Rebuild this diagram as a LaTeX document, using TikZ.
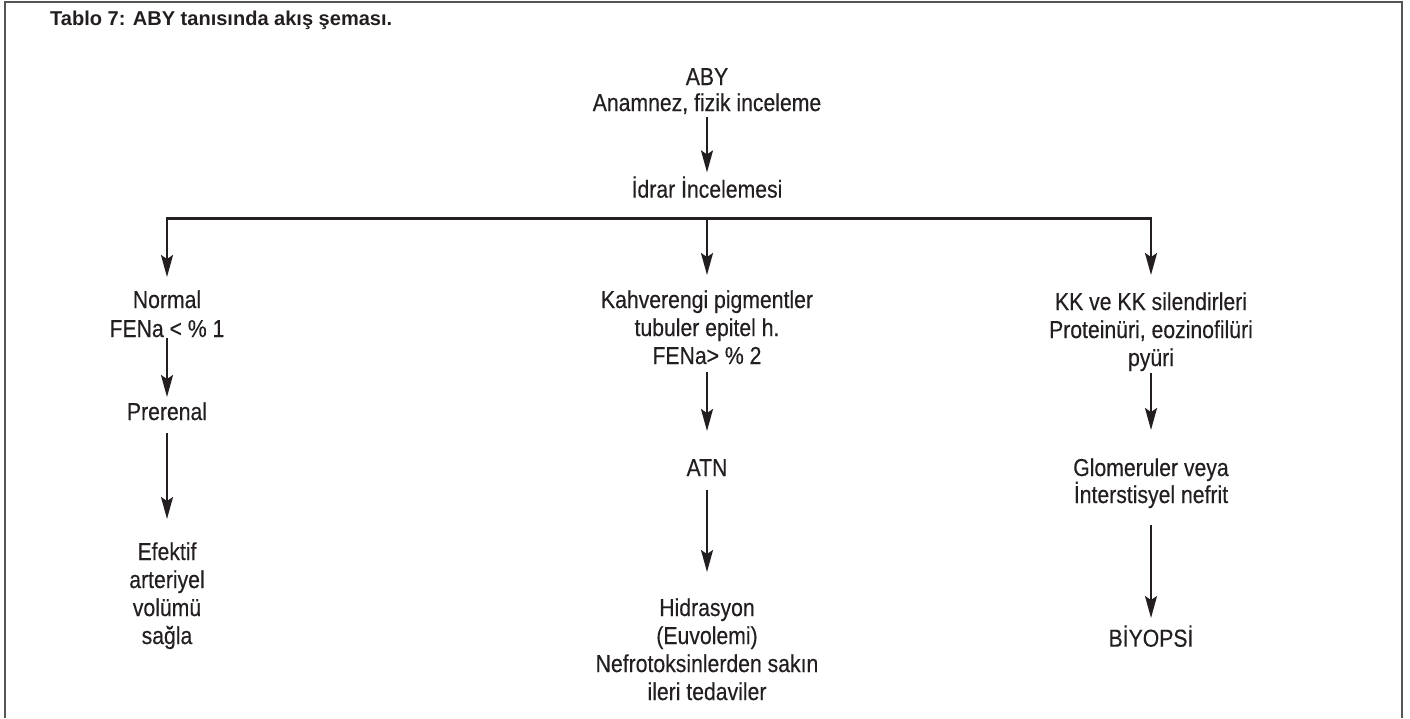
\documentclass[tikz,border=0pt]{standalone}
\usepackage{graphicx}
\usepackage{fontspec}
\setmainfont{Liberation Sans}[FakeStretch=0.865,FakeBold=0.3]
\newfontfamily\titlefont{Liberation Sans}
\usetikzlibrary{arrows.meta}
\definecolor{ink}{HTML}{231F20}
\definecolor{framec}{HTML}{555555}
\newcommand\tstr{\rule{0pt}{19.6pt}}
\newcommand\bstr{\rule[-8.4pt]{0pt}{8.4pt}}
\tikzset{
  lbl/.style={font=\fontsize{24.5}{28}\selectfont, align=center, inner sep=0pt, outer sep=0pt, anchor=north, text=ink},
  ttl/.style={anchor=west, inner sep=0pt, text=ink},
  arr/.style={draw=ink, line width=2pt, -{Stealth[length=22pt,width=12pt,inset=4pt]}},
  barline/.style={draw=ink, line width=3pt},
  framel/.style={draw=framec, line width=2pt}
}
\begin{document}
\begin{tikzpicture}[x=1pt,y=-1pt]
\useasboundingbox (0,0) rectangle (1410,718);
\draw[framel] (5,718) -- (5,2) -- (1402,2) -- (1402,718);
\node[ttl] (title) at (50,20) {\resizebox{342pt}{!}{\titlefont\bfseries Tablo 7: ABY tanısında akış şeması.}};

\node[lbl] (aby) at (707,65.4) {\tstr ABY\\[-2pt]Anamnez, fizik inceleme\bstr};
\node[lbl] (idrar) at (707,176.4) {\tstr İdrar İncelemesi\bstr};

\node[lbl] (norm) at (167,288.4) {\tstr Normal\\[1pt]FENa < \% 1\bstr};
\node[lbl] (pre) at (167,400.4) {\tstr Prerenal\bstr};
\node[lbl] (efek) at (167,540.4) {\tstr Efektif\\arteriyel\\volümü\\sağla\bstr};

\node[lbl] (kahve) at (707,288.4) {\tstr Kahverengi pigmentler\\tubuler epitel h.\\FENa> \% 2\bstr};
\node[lbl] (atn) at (707,456.4) {\tstr ATN\bstr};
\node[lbl] (hidr) at (707,596.4) {\tstr Hidrasyon\\(Euvolemi)\\Nefrotoksinlerden sakın\\ileri tedaviler\bstr};

\node[lbl] (kk) at (1151,290.4) {\tstr KK ve KK silendirleri\\Proteinüri, eozinofilüri\\pyüri\bstr};
\node[lbl] (glom) at (1151,456.4) {\tstr Glomeruler veya\\[-1pt]İnterstisyel nefrit\bstr};
\node[lbl] (biy) at (1151,625.4) {\tstr BİYOPSİ\bstr};

\coordinate (barL) at (167,218);
\coordinate (barM) at (707,218);
\coordinate (barR) at (1151,218);

\draw[arr, shorten <=-2pt, shorten >=4pt] (aby.south) -- (idrar.north);
\draw[barline] ([xshift=-1pt]barL) -- ([xshift=1pt]barR);
\draw[arr, shorten >=11.4pt] (barL) -- (norm.north);
\draw[arr, shorten >=13.4pt] (barM) -- (kahve.north);
\draw[arr, shorten >=15.4pt] (barR) -- (kk.north);

\draw[arr, shorten <=-7.4pt, shorten >=3.4pt] (norm.south) -- (pre.north);
\draw[arr, shorten <=4.6pt, shorten >=21.4pt] (pre.south) -- (efek.north);

\draw[arr, shorten <=-0.4pt, shorten >=25.4pt] (kahve.south) -- (atn.north);
\draw[arr, shorten <=5.6pt, shorten >=24.4pt] (atn.south) -- (hidr.north);

\draw[arr, shorten <=-1pt, shorten >=26.4pt] (kk.south) -- (glom.north);
\draw[arr, shorten <=13.6pt, shorten >=7.4pt] (glom.south) -- (biy.north);
\end{tikzpicture}
\end{document}
